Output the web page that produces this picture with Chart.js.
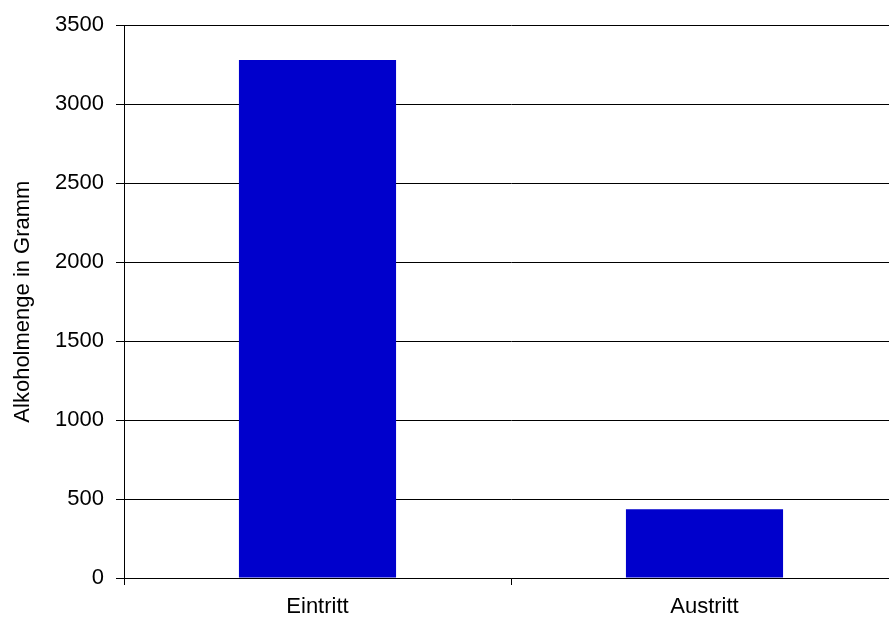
<!DOCTYPE html>
<html>
<head>
<meta charset="utf-8">
<script src="https://cdn.jsdelivr.net/npm/chart.js@4"></script>
<style>
  html, body { margin: 0; padding: 0; overflow: hidden; background: #fff; }
  #wrap { width: 898px; height: 619px; }
</style>
</head>
<body>
<div id="wrap"><canvas id="myChart"></canvas></div>
<script>
// Data
var categories = ['Eintritt', 'Austritt'];
var amounts = [3280, 436];
var yTicks = [0, 500, 1000, 1500, 2000, 2500, 3000, 3500];

var labelFont = { family: 'Liberation Sans, Arial, sans-serif', size: 22 };

var ctx = document.getElementById('myChart').getContext('2d');
var myChart = new Chart(ctx, {
    type: 'bar',
    data: {
        labels: categories,
        datasets: [{
            label: 'Alkoholmenge',
            data: amounts,
            backgroundColor: '#0000CC',
            borderWidth: 0,
            categoryPercentage: 1,
            barPercentage: 0.406
        }]
    },
    options: {
        responsive: true,
        maintainAspectRatio: false,
        animation: false,
        layout: { padding: { top: 24, right: 0, bottom: 0, left: 0 } },
        plugins: {
            legend: { display: false },
            tooltip: { enabled: false }
        },
        scales: {
            x: {
                grid: {
                    offset: true,
                    drawOnChartArea: false,
                    tickLength: 7,
                    color: '#000'
                },
                border: { color: '#000' },
                ticks: {
                    color: '#000',
                    padding: 9,
                    font: labelFont
                },
                afterFit: function(scale) { scale.height = 41; }
            },
            y: {
                min: 0,
                max: 3500,
                afterBuildTicks: function(scale) {
                    scale.ticks = yTicks.map(function(v) { return { value: v }; });
                },
                grid: {
                    color: '#000',
                    tickLength: 8
                },
                border: { color: '#000' },
                ticks: {
                    color: '#000',
                    padding: 12,
                    font: labelFont,
                    callback: function(value) { return String(value); }
                },
                title: {
                    display: true,
                    text: 'Alkoholmenge in Gramm',
                    color: '#000',
                    padding: { top: 10, bottom: 0 },
                    font: labelFont
                },
                afterFit: function(scale) { scale.width = 124; }
            }
        }
    }
});
</script>
</body>
</html>
